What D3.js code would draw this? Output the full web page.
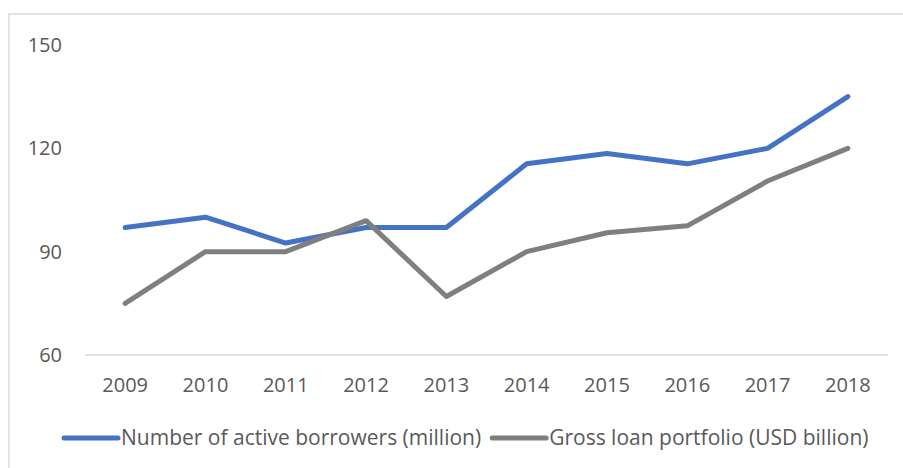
<!DOCTYPE html>
<html>
<head>
<meta charset="utf-8">
<script src="https://cdn.jsdelivr.net/npm/d3@7"></script>
<style>
  body { margin: 0; background: #fff; }
  svg { display: block; font-family: "Open Sans", sans-serif; }
</style>
</head>
<body>
<svg id="chart" width="903" height="468"></svg>
<script>
// Chart data
const years = ['2009', '2010', '2011', '2012', '2013', '2014', '2015', '2016', '2017', '2018'];
const borrowers = [97, 100, 92.5, 97, 97, 115.5, 118.5, 115.5, 120, 135];
const loanPortfolio = [75, 90, 90, 99, 77, 90, 95.5, 97.5, 110.5, 120];
const yTicks = [60, 90, 120, 150];
const seriesNames = ['Number of active borrowers (million)', 'Gross loan portfolio (USD billion)'];
const seriesColors = ['#4472C4', '#7F7F7F'];

const W = 903, H = 468;
const svg = d3.select('#chart');

// chart frame (only top and left edges show in the crop)
svg.append('path')
    .attr('d', `M9,${H} V14 H${W}`)
    .attr('fill', 'none')
    .attr('stroke', '#d9d9d9')
    .attr('stroke-width', 1.5);

const x = d3.scaleBand()
    .domain(years)
    .range([85, 888]);

const y = d3.scaleLinear()
    .domain([60, 150])
    .range([355, 45]);

// baseline
svg.append('line')
    .attr('x1', 85).attr('x2', 888)
    .attr('y1', y(60)).attr('y2', y(60))
    .attr('stroke', '#d9d9d9')
    .attr('stroke-width', 1.5);

// y axis labels
const yAxis = svg.append('g')
    .attr('transform', 'translate(62,0)')
    .call(d3.axisLeft(y).tickValues(yTicks).tickSize(0).tickPadding(0));
yAxis.select('.domain').remove();
yAxis.selectAll('text')
    .attr('fill', '#595959')
    .style('font-size', '20px')
    .style('font-family', '"Open Sans", sans-serif');

// x axis labels
const xAxis = svg.append('g')
    .attr('transform', 'translate(0,378)')
    .call(d3.axisBottom(x).tickSize(0).tickPadding(0));
xAxis.select('.domain').remove();
xAxis.selectAll('text')
    .attr('fill', '#595959')
    .style('font-size', '20px')
    .style('font-family', '"Open Sans", sans-serif');

// lines
const line = d3.line()
    .x((d, i) => x(years[i]) + x.bandwidth() / 2)
    .y(d => y(d));

[borrowers, loanPortfolio].forEach((vals, k) => {
    svg.append('path')
        .datum(vals)
        .attr('d', line)
        .attr('fill', 'none')
        .attr('stroke', seriesColors[k])
        .attr('stroke-width', 5)
        .attr('stroke-linecap', 'round')
        .attr('stroke-linejoin', 'round');
});

// legend
const legend = svg.append('g').attr('transform', 'translate(0,438)');
let lx = 62;
seriesNames.forEach((name, k) => {
    legend.append('line')
        .attr('x1', lx + 2).attr('x2', lx + 56)
        .attr('stroke', seriesColors[k])
        .attr('stroke-width', 5)
        .attr('stroke-linecap', 'round');
    const t = legend.append('text')
        .attr('x', lx + 59)
        .attr('dy', '0.35em')
        .attr('fill', '#595959')
        .style('font-size', '21px')
        .text(name);
    lx += 59 + t.node().getComputedTextLength() + 9;
});
</script>
</body>
</html>
